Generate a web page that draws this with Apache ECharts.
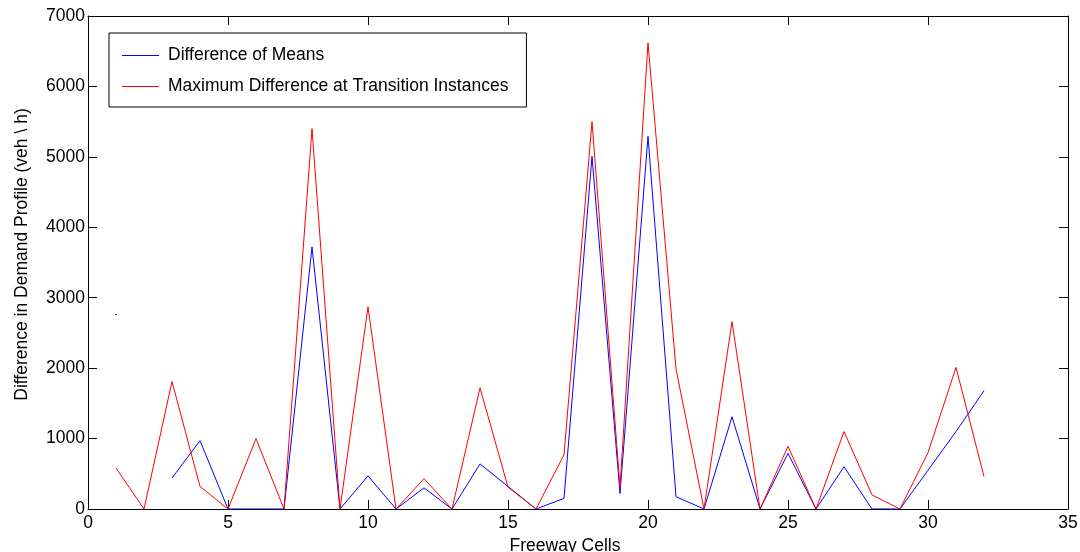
<!DOCTYPE html>
<html>
<head>
<meta charset="utf-8">
<script src="https://cdn.jsdelivr.net/npm/echarts@6/dist/echarts.min.js"></script>
<style>
html,body{margin:0;padding:0;background:#fff;}
#chart{width:1080px;height:552px;}
</style>
</head>
<body>
<div id="chart"></div>
<script>
const cells = [1,2,3,4,5,6,7,8,9,10,11,12,13,14,15,16,17,18,19,20,21,22,23,24,25,26,27,28,29,30,31,32];
const differenceOfMeans = [2760,null,440,970,0,0,0,3720,0,470,0,300,0,640,320,0,150,5010,220,5290,175,0,1310,0,790,0,600,0,0,550,1100,1680];
const maxDifferenceTransitions = [580,0,1810,320,0,1000,0,5400,0,2870,0,430,0,1720,310,0,770,5500,310,6620,1990,0,2660,0,890,0,1100,200,0,800,2010,460];
const xTicks = [0,5,10,15,20,25,30,35];
const yTicks = [0,1000,2000,3000,4000,5000,6000,7000];

const seriesNames = ['Difference of Means','Maximum Difference at Transition Instances'];
const FONT = '"Liberation Sans", Arial, sans-serif';

function pairs(arr){ return cells.map((c,i)=>[c, arr[i]]); }
// isolated points (no neighbours) that a line cannot draw
const isolated = [];
differenceOfMeans.forEach((v,i)=>{
  const prev = i>0 ? differenceOfMeans[i-1] : null;
  const next = i<differenceOfMeans.length-1 ? differenceOfMeans[i+1] : null;
  if (v!=null && prev==null && next==null) isolated.push([cells[i], v]);
});

const chart = echarts.init(document.getElementById('chart'));
const axisCommon = {
  type:'value',
  axisLine:{show:true,onZero:false,lineStyle:{color:'#000',width:1}},
  axisTick:{show:true,inside:true,length:9,lineStyle:{color:'#000'}},
  splitLine:{show:false}
};
const plain = v => String(v);
chart.setOption({
  animation:false,
  backgroundColor:'#fff',
  grid:{left:88,right:12,top:16,bottom:43,containLabel:false,outerBoundsMode:'none'},
  legend:{
    data:seriesNames.map(n=>({name:n, icon:'rect'})),
    orient:'vertical',
    left:109, top:33,
    padding:[13,18,11,13],
    itemGap:12,
    itemWidth:37, itemHeight:1,
    backgroundColor:'#fff',
    borderColor:'#000', borderWidth:1,
    textStyle:{fontFamily:FONT,fontSize:17.5,color:'#000',lineHeight:19,padding:[0,0,0,4]},
    itemStyle:{opacity:1}
  },
  xAxis:[
    Object.assign({}, axisCommon, {
      position:'bottom', min:xTicks[0], max:xTicks[xTicks.length-1], interval:5,
      axisLabel:{fontFamily:FONT,fontSize:17.5,color:'#000',margin:5,formatter:plain},
      name:'Freeway Cells', nameLocation:'middle', nameGap:27,
      nameTextStyle:{fontFamily:FONT,fontSize:17.5,color:'#000',padding:[0,26,0,0]}
    }),
    Object.assign({}, axisCommon, {
      position:'top', min:xTicks[0], max:xTicks[xTicks.length-1], interval:5,
      axisLabel:{show:false}
    })
  ],
  yAxis:[
    Object.assign({}, axisCommon, {
      position:'left', min:yTicks[0], max:yTicks[yTicks.length-1], interval:1000,
      axisLabel:{fontFamily:FONT,fontSize:17.5,color:'#000',margin:3,formatter:plain},
      name:'Difference in Demand Profile (veh \\ h)', nameLocation:'middle', nameGap:57,
      nameMoveOverlap:false,
      nameTextStyle:{fontFamily:FONT,fontSize:17.5,color:'#000',padding:[0,0,0,16]}
    }),
    Object.assign({}, axisCommon, {
      position:'right', min:yTicks[0], max:yTicks[yTicks.length-1], interval:1000,
      axisLabel:{show:false}
    })
  ],
  series:[
    {
      name:seriesNames[0], type:'line', data:pairs(differenceOfMeans),
      symbol:'none', connectNulls:false,
      lineStyle:{color:'#0000ff',width:1}, itemStyle:{color:'#0000ff'}
    },
    {
      name:seriesNames[1], type:'line', data:pairs(maxDifferenceTransitions),
      symbol:'none',
      lineStyle:{color:'#ff0000',width:1}, itemStyle:{color:'#ff0000'}
    },
    {
      name:'isolated', type:'scatter', data:isolated,
      symbol:'rect', symbolSize:[2,1], itemStyle:{color:'#0000ff'}, silent:true
    }
  ]
});
</script>
</body>
</html>
